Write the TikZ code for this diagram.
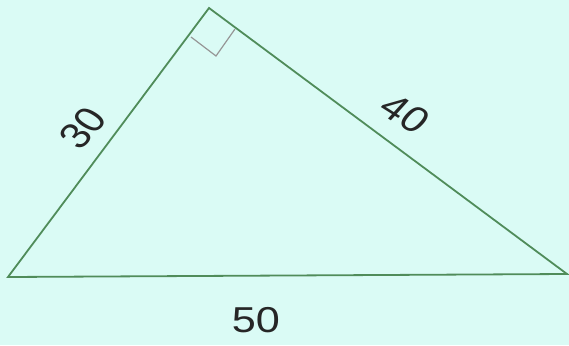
\documentclass[tikz,border=0pt]{standalone}
\usepackage{fontspec}
\setmainfont{Liberation Sans}
\usepackage{xcolor}
\usetikzlibrary{positioning}
\definecolor{bgcyan}{RGB}{218,251,245}
\definecolor{sidegreen}{RGB}{80,140,90}
\definecolor{markgray}{RGB}{150,150,150}

\begin{document}
\begin{tikzpicture}[x=1pt, y=-1pt,
    side/.style={draw=sidegreen, line width=1.8pt, line join=miter},
    rightmark/.style={draw=markgray, line width=1.2pt},
    sidelabel/.style={font=\fontsize{36}{40}\selectfont, text=black!85, inner sep=0pt, xscale=1.2}
]

% Background - fixes the picture size
\fill[bgcyan] (0,0) rectangle (569,345);
\useasboundingbox (0,0) rectangle (569,345);

% Vertices
\coordinate (A) at (8, 277);
\coordinate (B) at (209, 8);
\coordinate (C) at (567, 274);

% Right angle marker at the top
\coordinate (m1) at (191, 37);
\coordinate (m2) at (216, 56);
\coordinate (m3) at (235, 29);
\draw[rightmark] (m1) -- (m2) -- (m3);

% Triangle sides
\draw[side] (A) -- (B) -- (C) -- cycle;

% Side lengths
\node[sidelabel, rotate=53] (lab30) at (83, 128) {30};
\node[sidelabel, rotate=-37] (lab40) at (405, 114) {40};
\node[sidelabel] (lab50) at (256, 320) {50};

\end{tikzpicture}
\end{document}
